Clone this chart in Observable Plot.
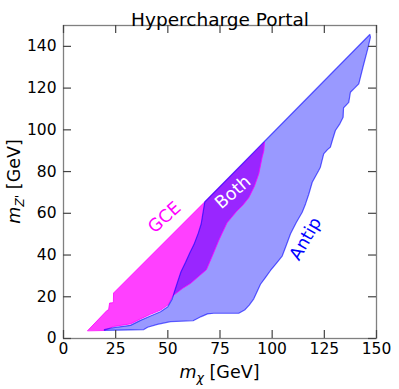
<!DOCTYPE html>
<html><head><meta charset="utf-8">
<script src="https://cdn.jsdelivr.net/npm/d3@7"></script>
<script src="https://cdn.jsdelivr.net/npm/@observablehq/plot@0.6"></script>
<style>body{margin:0;background:#fff}</style>
</head><body><div id="chart"></div>
<script>
const title = "Hypercharge Portal";
const xTicks = [0, 25, 50, 75, 100, 125, 150];
const yTicks = [0, 20, 40, 60, 80, 100, 120, 140];

// GCE region (magenta)
const gceX = [11.6, 20.9, 21.6, 22.1, 23.5, 23.9, 24.0, 67.7, 96.3, 96.0, 95.2, 93.6, 91.5, 88.8, 86.0, 83.0, 80.5, 78.4, 76.5, 74.4, 71.5, 68.5, 65.0, 61.0, 57.0, 52.3, 50.2, 46.5, 41.7, 36.9, 32.1, 24.1, 19.6];
const gceY = [3.8, 13.5, 13.7, 17.0, 17.1, 17.6, 21.8, 65.5, 94.2, 90.0, 86.9, 79.0, 73.0, 67.5, 64.0, 61.0, 58.0, 55.5, 51.5, 47.0, 40.0, 33.0, 30.0, 26.5, 24.0, 20.4, 16.2, 13.6, 11.6, 9.4, 7.0, 5.8, 3.9];

// Antiproton region (blue)
const antipX = [146.8, 67.7, 66.8, 66.0, 64.6, 62.5, 60.5, 58.5, 56.3, 54.8, 53.5, 52.1, 50.0, 46.5, 41.7, 36.9, 32.1, 24.1, 19.6, 19.6, 32.0, 38.5, 40.3, 45.0, 51.3, 62.1, 66.0, 69.0, 72.0, 84.0, 87.0, 89.0, 91.2, 94.4, 97.0, 99.2, 102.0, 104.8, 106.5, 108.8, 111.5, 114.4, 116.0, 117.5, 119.2, 122.3, 123.1, 124.7, 126.5, 127.9, 129.0, 130.3, 132.5, 134.0, 134.2, 136.7, 137.5, 139.5, 141.5, 143.5, 145.8, 147.1];
const antipY = [145.7, 65.4, 60.0, 55.0, 50.5, 45.0, 41.0, 36.5, 32.0, 27.5, 23.5, 19.0, 15.2, 12.8, 10.8, 8.7, 6.3, 5.2, 4.3, 3.9, 4.1, 4.3, 5.4, 6.8, 8.1, 8.5, 10.5, 11.8, 12.1, 12.1, 13.8, 16.0, 19.0, 26.0, 29.5, 32.6, 36.0, 39.5, 44.0, 50.2, 55.5, 60.5, 64.5, 69.0, 74.9, 80.5, 82.1, 88.5, 90.5, 91.7, 95.5, 99.7, 103.0, 106.0, 110.5, 113.2, 118.0, 120.0, 122.0, 130.0, 138.8, 144.4];

const labelText = ["GCE", "Both", "Antip"];
const labelX = [48.4, 81.2, 116.0];
const labelY = [58.0, 70.1, 47.8];

const gce = gceX.map((x, i) => ({x, y: gceY[i]}));
const antip = antipX.map((x, i) => ({x, y: antipY[i]}));
const labels = labelText.map((t, i) => ({t, x: labelX[i], y: labelY[i]}));

const font = "DejaVu Sans, sans-serif";
const innerH = 389 - 25 - 51, innerW = 399 - 63 - 23;
const tickLen = 8;

const svg = Plot.plot({
  width: 399, height: 389,
  marginTop: 25, marginLeft: 63, marginRight: 23, marginBottom: 51,
  x: {domain: [0, 150]},
  y: {domain: [0, 150]},
  style: {fontFamily: font, fontSize: "15.5px", background: "#fff", color: "#000", overflow: "visible"},
  marks: [
    Plot.line(gce, {x: "x", y: "y", curve: "linear-closed", fill: "#ff40ff", stroke: "none"}),
    Plot.line(antip, {x: "x", y: "y", curve: "linear-closed", fill: "#0000ff", fillOpacity: 0.4, stroke: "none"}),
    Plot.line(gce, {x: "x", y: "y", curve: "linear-closed", stroke: "#ff00ff", strokeWidth: 1, strokeOpacity: 0.8}),
    Plot.line(antip, {x: "x", y: "y", curve: "linear-closed", stroke: "#0000ff", strokeWidth: 1.2, strokeOpacity: 0.6}),
    Plot.text([labels[0]], {x: "x", y: "y", text: "t", rotate: -42, fill: "#ff00ff", fontSize: 17.5}),
    Plot.text([labels[1]], {x: "x", y: "y", text: "t", rotate: -41, fill: "#ffffff", fontSize: 17.5}),
    Plot.text([labels[2]], {x: "x", y: "y", text: "t", rotate: -60, fill: "#0000ff", fontSize: 17.5}),
    Plot.frame({stroke: "#808080", strokeWidth: 1.3}),
    Plot.tickX(xTicks, {x: d => d, insetTop: innerH - tickLen, stroke: "#444", strokeWidth: 1.2}),
    Plot.tickX(xTicks, {x: d => d, insetBottom: innerH - tickLen, stroke: "#444", strokeWidth: 1.2}),
    Plot.tickY(yTicks, {y: d => d, insetRight: innerW - tickLen, stroke: "#444", strokeWidth: 1.2}),
    Plot.tickY(yTicks, {y: d => d, insetLeft: innerW - tickLen, stroke: "#444", strokeWidth: 1.2}),
    Plot.axisX(xTicks, {tickSize: 0, tickPadding: 4, fontSize: 15.5, label: null}),
    Plot.axisY(yTicks, {tickSize: 0, tickPadding: 7, fontSize: 15.5, label: null}),
    Plot.text([title], {frameAnchor: "top", dy: -13, fontSize: 18.5, fill: "#000"})
  ]
});

const s = d3.select(svg);
s.selectAll("g[aria-label$='tick label']").attr("font-size", 15.5).style("font-size", "15.5px")
  .selectAll("text").attr("font-size", 15.5).style("font-size", "15.5px");

const xl = s.append("text").attr("x", 219.5).attr("y", 378).attr("text-anchor", "middle")
  .attr("font-family", font).attr("font-size", 17.5).attr("fill", "#000");
xl.append("tspan").attr("font-style", "italic").text("m");
xl.append("tspan").attr("font-style", "italic").attr("font-size", 12.5).attr("dy", 3.5).text("χ");
xl.append("tspan").attr("dy", -3.5).text(" [GeV]");

const yl = s.append("text").attr("transform", "translate(20,181.5) rotate(-90)").attr("text-anchor", "middle")
  .attr("font-family", font).attr("font-size", 17.5).attr("fill", "#000");
yl.append("tspan").attr("font-style", "italic").text("m");
yl.append("tspan").attr("font-style", "italic").attr("font-size", 12.5).attr("dy", 3.5).text("Z'");
yl.append("tspan").attr("dy", -3.5).text(" [GeV]");

document.getElementById("chart").append(svg);
</script>
</body></html>
